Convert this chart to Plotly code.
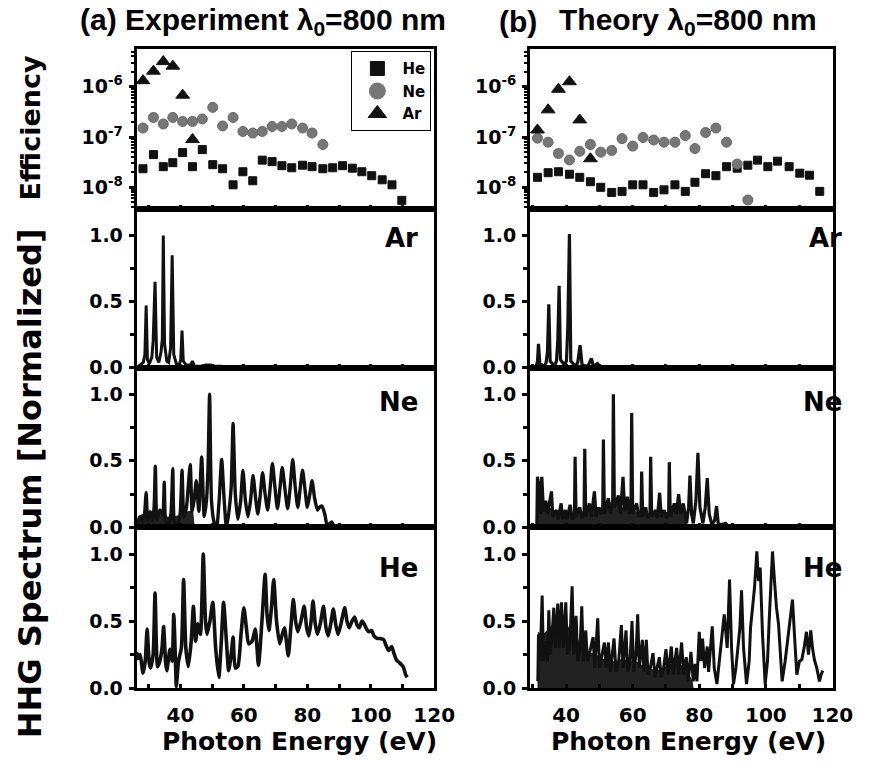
import plotly.graph_objects as go

FONT = "Liberation Sans, Arial, sans-serif"
WIDE = "DejaVu Sans, Verdana, sans-serif"
W, H = 877, 770

# ---------------- Efficiency (top row) ----------------
exp_ar_e = [28.2, 31.5, 34.6, 37.6, 40.7, 43.8]
exp_ar_eff = [1.32e-6, 2.04e-6, 3.16e-6, 2.57e-6, 6.8e-7, 8.9e-8]
exp_ne_e = [28.2, 31.5, 34.6, 37.6, 40.7, 43.8, 46.9, 50.2, 53.3, 56.6, 59.7, 62.8,
            65.8, 68.9, 72.0, 75.1, 78.5, 81.5, 84.9]
exp_ne_eff = [1.51e-7, 2.45e-7, 1.82e-7, 2.45e-7, 2.04e-7, 2.04e-7, 2.29e-7, 3.89e-7,
              1.66e-7, 2.45e-7, 1.29e-7, 1.20e-7, 1.29e-7, 1.62e-7, 1.62e-7, 1.82e-7,
              1.51e-7, 1.20e-7, 7.1e-8]
exp_he_e = [28.2, 31.5, 34.6, 37.6, 40.7, 43.8, 46.9, 50.2, 53.3, 56.6, 59.7, 62.8,
            65.8, 68.9, 72.0, 75.1, 78.5, 81.5, 84.9, 88.0, 91.1, 94.2, 97.2, 100.3,
            103.6, 106.7, 109.8]
exp_he_eff = [2.34e-8, 4.47e-8, 2.57e-8, 3.09e-8, 4.90e-8, 2.57e-8, 5.62e-8, 2.82e-8,
              2.34e-8, 1.12e-8, 2.04e-8, 1.35e-8, 3.47e-8, 3.24e-8, 2.69e-8, 2.45e-8,
              2.75e-8, 2.57e-8, 2.34e-8, 2.45e-8, 2.69e-8, 2.40e-8, 2.04e-8, 1.70e-8,
              1.41e-8, 1.12e-8, 5.5e-9]

th_ar_e = [31.4, 34.6, 37.7, 41.0, 44.1, 47.3]
th_ar_eff = [1.38e-7, 3.47e-7, 8.9e-7, 1.26e-6, 2.19e-7, 3.7e-8]
th_ne_e = [31.4, 34.6, 37.7, 41.0, 44.1, 47.3, 50.4, 53.7, 56.8, 60.0, 63.1, 66.3,
           69.4, 72.7, 75.8, 78.7, 81.9, 85.0, 88.2, 91.4, 94.6]
th_ne_eff = [9.5e-8, 7.9e-8, 4.7e-8, 3.5e-8, 5.2e-8, 7.1e-8, 5.0e-8, 5.4e-8, 9.3e-8,
             6.6e-8, 9.8e-8, 8.7e-8, 7.9e-8, 7.9e-8, 1.07e-7, 5.9e-8, 1.23e-7, 1.51e-7,
             7.9e-8, 2.9e-8, 5.6e-9]
th_he_e = [31.4, 34.6, 37.7, 41.0, 44.1, 47.3, 50.4, 53.7, 56.8, 60.0, 63.1, 66.3,
           69.4, 72.7, 75.8, 78.7, 81.9, 85.0, 88.2, 91.4, 94.6, 97.5, 100.6, 103.5,
           107.0, 110.2, 113.1, 116.2]
th_he_eff = [1.58e-8, 1.95e-8, 2.04e-8, 1.82e-8, 1.58e-8, 1.29e-8, 1.0e-8, 7.9e-9,
             8.3e-9, 1.12e-8, 1.12e-8, 7.9e-9, 8.9e-9, 1.12e-8, 8.3e-9, 1.26e-8,
             1.86e-8, 1.70e-8, 2.57e-8, 2.40e-8, 2.75e-8, 3.47e-8, 2.57e-8, 3.31e-8,
             2.57e-8, 1.91e-8, 1.74e-8, 8.3e-9]

# ---------------- Spectra (energy, normalized intensity) ----------------
exp_ar_spec = [(26.3, 0.0), (27.5, 0.02), (28.3, 0.04), (28.8, 0.1), (29.2, 0.47), (29.6, 0.06),
               (30.2, 0.03), (31.0, 0.08), (31.4, 0.2), (32.0, 0.65), (32.5, 0.08), (33.2, 0.04),
               (33.9, 0.12), (34.3, 0.22), (34.6, 1.0), (35.0, 0.18), (35.7, 0.05), (36.3, 0.04),
               (36.9, 0.15), (37.4, 0.85), (37.9, 0.1), (38.7, 0.03), (39.6, 0.02), (40.1, 0.06),
               (40.5, 0.28), (40.9, 0.05), (41.8, 0.02), (43.2, 0.02), (43.8, 0.05), (44.4, 0.01),
               (46.0, 0.01), (48.0, 0.02), (49.5, 0.02), (51.0, 0.01), (53.0, 0.01), (56.0, 0.0),
               (60.0, 0.0)]

exp_ne_spec = [(26.4, 0.02), (27.3, 0.08), (28.2, 0.04), (28.7, 0.1), (29.2, 0.26), (29.7, 0.05),
               (30.5, 0.12), (31.2, 0.05), (31.7, 0.15), (32.1, 0.46), (32.6, 0.06), (33.5, 0.13),
               (34.4, 0.1), (34.9, 0.34), (35.4, 0.04), (36.2, 0.02), (37.0, 0.1), (37.6, 0.44),
               (38.2, 0.03), (39.0, 0.02), (39.9, 0.1), (40.5, 0.43), (41.1, 0.08), (41.9, 0.15),
               (42.6, 0.35), (43.1, 0.47), (43.7, 0.12), (44.3, 0.2), (45.0, 0.35), (45.8, 0.12),
               (46.7, 0.53), (47.5, 0.08), (48.2, 0.2), (48.7, 0.45), (49.2, 1.0), (49.8, 0.2),
               (50.6, 0.04), (51.4, 0.0), (52.2, 0.2), (53.0, 0.51), (53.8, 0.2), (54.5, 0.0),
               (55.2, 0.1), (56.0, 0.3), (56.6, 0.78), (57.3, 0.25), (58.1, 0.06), (59.0, 0.2),
               (59.7, 0.43), (60.5, 0.2), (61.3, 0.08), (62.1, 0.2), (62.9, 0.39), (63.7, 0.22),
               (64.4, 0.1), (65.2, 0.25), (65.9, 0.41), (66.7, 0.25), (67.5, 0.13), (68.3, 0.3),
               (69.0, 0.48), (69.8, 0.3), (70.6, 0.14), (71.4, 0.3), (72.1, 0.45), (72.9, 0.3),
               (73.8, 0.14), (74.6, 0.3), (75.4, 0.51), (76.2, 0.3), (77.0, 0.15), (77.7, 0.28),
               (78.5, 0.43), (79.3, 0.28), (80.0, 0.15), (80.8, 0.25), (81.5, 0.35), (82.3, 0.22),
               (83.2, 0.13), (83.8, 0.15), (84.6, 0.16), (85.5, 0.1), (86.3, 0.01), (87.1, 0.03),
               (87.7, 0.04), (88.5, 0.01), (90.0, 0.0), (95.0, 0.0), (100.0, 0.0), (110.0, 0.0),
               (119.5, 0.0)]
exp_ne_floor = [(26.4, 0.0), (26.5, 0.08), (28.0, 0.1), (30.0, 0.12), (32.0, 0.12), (34.0, 0.1),
                (36.0, 0.08), (38.0, 0.08), (40.0, 0.1), (42.0, 0.12), (44.0, 0.13), (44.5, 0.0)]

exp_he_spec = [(26.2, 0.27), (26.6, 0.22), (27.3, 0.25), (28.2, 0.11), (28.9, 0.2), (29.5, 0.44),
               (30.2, 0.18), (30.6, 0.15), (31.4, 0.25), (32.0, 0.71), (32.8, 0.16), (33.5, 0.2),
               (34.2, 0.3), (34.7, 0.46), (35.3, 0.2), (35.7, 0.13), (36.7, 0.29), (37.4, 0.2),
               (37.9, 0.55), (38.5, 0.15), (38.7, 0.01), (39.4, 0.2), (40.3, 0.3), (41.0, 0.81),
               (41.7, 0.3), (42.5, 0.16), (43.4, 0.35), (44.1, 0.61), (44.8, 0.35), (45.5, 0.48),
               (46.3, 0.4), (47.2, 1.0), (47.9, 0.5), (48.4, 0.4), (49.3, 0.5), (50.2, 0.64),
               (51.1, 0.3), (52.1, 0.08), (52.9, 0.35), (53.6, 0.64), (54.5, 0.35), (55.2, 0.13),
               (56.0, 0.25), (56.6, 0.38), (57.3, 0.15), (58.1, 0.16), (59.1, 0.4), (60.0, 0.6),
               (60.8, 0.45), (61.5, 0.33), (62.6, 0.35), (63.6, 0.44), (64.6, 0.17), (65.7, 0.5),
               (66.7, 0.85), (67.3, 0.55), (67.9, 0.43), (68.7, 0.6), (69.4, 0.81), (70.3, 0.5),
               (71.3, 0.33), (72.1, 0.4), (72.8, 0.45), (74.0, 0.24), (74.8, 0.45), (75.6, 0.66),
               (76.3, 0.5), (77.0, 0.42), (78.0, 0.5), (79.0, 0.61), (79.8, 0.45), (80.5, 0.39),
               (81.2, 0.5), (81.8, 0.65), (82.5, 0.48), (83.2, 0.4), (84.1, 0.48), (85.1, 0.61),
               (85.9, 0.45), (86.6, 0.39), (87.4, 0.48), (88.2, 0.59), (89.0, 0.47), (89.7, 0.4),
               (90.8, 0.5), (91.8, 0.6), (92.5, 0.5), (93.2, 0.45), (94.1, 0.5), (94.9, 0.53),
               (95.7, 0.47), (96.4, 0.45), (97.2, 0.5), (97.9, 0.48), (98.7, 0.44), (99.5, 0.42),
               (100.3, 0.43), (101.0, 0.39), (102.1, 0.37), (103.1, 0.37), (104.1, 0.36),
               (104.8, 0.32), (105.6, 0.28), (106.6, 0.31), (107.3, 0.26), (108.1, 0.21),
               (109.0, 0.19), (110.2, 0.16), (111.0, 0.1), (111.5, 0.08)]

th_ar_spec = [(29.5, 0.0), (31.0, 0.01), (31.4, 0.05), (31.7, 0.18), (32.1, 0.03), (33.5, 0.01),
              (34.0, 0.04), (34.4, 0.12), (34.8, 0.48), (35.2, 0.05), (36.5, 0.01), (37.1, 0.05),
              (37.5, 0.2), (37.9, 0.62), (38.3, 0.06), (39.5, 0.02), (40.1, 0.05), (40.5, 0.3),
              (41.0, 1.01), (41.4, 0.05), (42.8, 0.01), (43.5, 0.04), (44.2, 0.17), (44.8, 0.02),
              (46.5, 0.01), (47.6, 0.07), (48.2, 0.01), (49.4, 0.03), (50.5, 0.0), (60.0, 0.0)]

th_ne_spec = [(31.2, 0.02), (31.4, 0.38), (31.9, 0.3), (32.3, 0.1), (32.7, 0.38), (33.2, 0.12),
              (33.9, 0.2), (34.4, 0.1), (35.6, 0.27), (36.0, 0.08), (37.1, 0.13), (37.6, 0.06),
              (38.5, 0.18), (39.0, 0.06), (39.8, 0.13), (40.3, 0.06), (41.2, 0.17), (41.8, 0.06),
              (42.5, 0.08), (42.7, 0.53), (43.0, 0.08), (44.1, 0.15), (44.7, 0.07), (45.4, 0.1),
              (45.6, 0.59), (45.9, 0.08), (47.0, 0.18), (47.6, 0.08), (48.5, 0.27), (49.0, 0.08),
              (49.8, 0.15), (50.4, 0.1), (51.0, 0.12), (51.2, 0.66), (51.5, 0.1), (52.7, 0.22),
              (53.3, 0.1), (54.0, 0.2), (54.2, 1.0), (54.5, 0.15), (55.7, 0.24), (56.3, 0.1),
              (57.1, 0.38), (57.6, 0.12), (58.4, 0.23), (59.0, 0.1), (59.5, 0.2), (59.7, 0.86),
              (60.0, 0.1), (61.2, 0.18), (61.8, 0.08), (62.5, 0.1), (62.7, 0.42), (63.0, 0.08),
              (63.9, 0.15), (64.5, 0.07), (65.2, 0.1), (65.4, 0.53), (65.7, 0.08), (66.9, 0.13),
              (67.4, 0.07), (68.1, 0.26), (68.6, 0.08), (69.5, 0.13), (70.1, 0.07), (70.8, 0.1),
              (71.0, 0.49), (71.3, 0.08), (72.5, 0.18), (73.1, 0.1), (73.8, 0.25), (74.4, 0.1),
              (75.2, 0.18), (75.8, 0.08), (76.2, 0.03), (76.8, 0.15), (77.2, 0.39), (77.7, 0.1),
              (78.2, 0.03), (79.0, 0.2), (79.6, 0.56), (80.2, 0.15), (81.1, 0.03), (81.8, 0.15),
              (82.4, 0.37), (83.0, 0.1), (83.8, 0.02), (84.6, 0.05), (85.2, 0.16), (85.7, 0.03),
              (86.5, 0.02), (87.9, 0.03), (89.0, 0.0), (95.0, 0.0), (105.0, 0.0), (119.0, 0.0)]
th_ne_floor = [(31.0, 0.0), (31.2, 0.35), (32.5, 0.3), (33.5, 0.18), (35.0, 0.15), (37.0, 0.12),
               (39.0, 0.1), (41.0, 0.1), (43.0, 0.12), (45.0, 0.12), (47.0, 0.14), (49.0, 0.15),
               (51.0, 0.15), (53.0, 0.18), (55.0, 0.2), (57.0, 0.15), (59.0, 0.15), (61.0, 0.12),
               (63.0, 0.1), (65.0, 0.1), (67.0, 0.1), (69.0, 0.11), (71.0, 0.12), (73.0, 0.15),
               (75.0, 0.15), (76.0, 0.12), (76.3, 0.0)]

th_he_spec = [(31.5, 0.05), (31.7, 0.4), (32.2, 0.2), (32.8, 0.69), (33.2, 0.2), (33.8, 0.35),
              (34.4, 0.2), (34.8, 0.58), (35.2, 0.25), (35.8, 0.4), (36.3, 0.6), (36.8, 0.3),
              (37.5, 0.63), (38.0, 0.3), (38.6, 0.64), (39.2, 0.3), (39.9, 0.64), (40.4, 0.25),
              (41.1, 0.3), (41.8, 0.76), (42.3, 0.25), (43.0, 0.54), (43.5, 0.2), (44.2, 0.3),
              (44.7, 0.61), (45.2, 0.2), (45.9, 0.43), (46.4, 0.2), (47.2, 0.28), (48.1, 0.38),
              (48.6, 0.15), (49.5, 0.52), (50.0, 0.15), (50.7, 0.25), (51.5, 0.34), (52.0, 0.15),
              (52.7, 0.34), (53.3, 0.12), (54.4, 0.37), (55.0, 0.12), (55.8, 0.2), (56.6, 0.47),
              (57.1, 0.15), (58.0, 0.43), (58.5, 0.12), (59.2, 0.2), (59.8, 0.5), (60.3, 0.12),
              (61.0, 0.25), (61.5, 0.55), (62.0, 0.15), (62.9, 0.36), (63.4, 0.12), (64.1, 0.36),
              (64.6, 0.1), (65.3, 0.15), (66.1, 0.26), (66.7, 0.08), (68.0, 0.23), (68.6, 0.08),
              (69.3, 0.15), (70.0, 0.29), (70.6, 0.1), (71.6, 0.31), (72.2, 0.1), (73.2, 0.3),
              (73.8, 0.1), (74.7, 0.34), (75.3, 0.1), (76.1, 0.23), (76.7, 0.05), (77.5, 0.27),
              (78.2, 0.05), (78.8, 0.18), (79.3, 0.05), (80.0, 0.42), (80.5, 0.2), (81.0, 0.37),
              (81.6, 0.15), (82.4, 0.31), (82.8, 0.12), (83.9, 0.46), (84.5, 0.15), (85.3, 0.03),
              (86.0, 0.2), (86.8, 0.38), (87.5, 0.55), (88.4, 0.3), (89.1, 0.81), (89.7, 0.3),
              (90.3, 0.03), (91.0, 0.15), (91.7, 0.31), (92.2, 0.45), (92.7, 0.73), (93.3, 0.3),
              (94.2, 0.03), (95.0, 0.2), (95.4, 0.45), (96.0, 0.6), (96.6, 0.75), (97.3, 1.02),
              (97.8, 0.8), (98.3, 0.9), (99.0, 0.4), (99.8, 0.03), (100.5, 0.2), (101.0, 0.5),
              (101.5, 0.75), (102.0, 1.02), (102.6, 0.8), (103.2, 0.6), (103.8, 0.48),
              (104.9, 0.05), (105.8, 0.2), (106.6, 0.36), (107.4, 0.5), (108.0, 0.66),
              (108.6, 0.4), (109.3, 0.1), (110.1, 0.2), (110.8, 0.21), (111.5, 0.3),
              (112.2, 0.42), (112.8, 0.25), (113.5, 0.43), (114.0, 0.3), (114.6, 0.21),
              (115.3, 0.15), (116.1, 0.05), (116.6, 0.1), (117.1, 0.13)]
th_he_floor = [(31.4, 0.0), (31.5, 0.42), (33.0, 0.4), (35.0, 0.45), (37.0, 0.5), (39.0, 0.5),
               (41.0, 0.45), (43.0, 0.38), (45.0, 0.32), (47.0, 0.27), (49.0, 0.25), (51.0, 0.22),
               (53.0, 0.2), (55.0, 0.2), (57.0, 0.22), (59.0, 0.2), (61.0, 0.2), (63.0, 0.17),
               (65.0, 0.15), (67.0, 0.13), (69.0, 0.15), (71.0, 0.18), (73.0, 0.18), (75.0, 0.17),
               (77.0, 0.1), (78.0, 0.05), (78.3, 0.0)]

panel_names = ["Ar", "Ne", "He"]
x_ticks = [40, 60, 80, 100, 120]
titles = ["(a) Experiment λ<sub>0</sub>=800 nm", "(b)", "Theory λ<sub>0</sub>=800 nm"]

# ---------------- geometry ----------------
col_px = [(140, 445), (543, 853)]
row_px = [(50, 212), (212, 373), (373, 535), (535, 698)]
x_ranges = [(26.2, 120.05), (29.15, 120.05)]
LOG_RANGE = (-8.431, -5.255)


def px2fx(p):
    return p / W


def px2fy(p):
    return 1 - p / H


def aid(i):
    return "" if i == 1 else str(i)


fig = go.Figure()
BOLD = dict(family=FONT, color="black", weight="bold")
WBOLD = dict(family=WIDE, color="black", weight="bold")

layout = {}
for r in range(4):
    for c in range(2):
        i = r * 2 + c + 1
        xa = dict(domain=[px2fx(col_px[c][0]), px2fx(col_px[c][1])], range=list(x_ranges[c]),
                  anchor="y" + aid(i), showgrid=False, zeroline=False,
                  showline=True, linewidth=3, linecolor="black", mirror=True,
                  ticks="inside", ticklen=4, tickwidth=3, tickcolor="black",
                  tickmode="array", tickvals=x_ticks, ticktext=[str(v) for v in x_ticks],
                  minor=dict(ticks="inside", tickvals=[30, 50, 70, 90, 110], ticklen=4,
                             tickwidth=3, tickcolor="black"),
                  showticklabels=(r == 3), tickfont=dict(WBOLD, size=20), ticklabelstandoff=7)
        if r == 0:
            ya = dict(type="log", range=list(LOG_RANGE),
                      tickmode="array", tickvals=[1e-8, 1e-7, 1e-6],
                      ticktext=["10<sup>-8</sup>", "10<sup>-7</sup>", "10<sup>-6</sup>"],
                      minor=dict(ticks="outside", ticklen=3, tickwidth=2, tickcolor="black",
                                 tickvals=[k * 10.0 ** e for e in (-9, -8, -7, -6) for k in range(2, 10)]))
        else:
            ya = dict(range=[0, 1.2], tickmode="array", tickvals=[0, 0.5, 1.0],
                      ticktext=["0.0", "0.5", "1.0"],
                      minor=dict(ticks="outside", tickvals=[0.25, 0.75], ticklen=4,
                                 tickwidth=3, tickcolor="black"))
        ya.update(domain=[px2fy(row_px[r][1]), px2fy(row_px[r][0])], anchor="x" + aid(i),
                  showgrid=False, zeroline=False, showline=True, linewidth=3,
                  linecolor="black", mirror=True, ticks="outside", ticklen=5, tickwidth=3,
                  tickcolor="black", tickfont=dict(WBOLD, size=19), ticklabelstandoff=2)
        layout["xaxis" + aid(i)] = xa
        layout["yaxis" + aid(i)] = ya


def add_eff(i, e, v, symbol, size, color, line_color):
    fig.add_trace(go.Scatter(x=e, y=v, mode="markers", xaxis="x" + aid(i), yaxis="y" + aid(i),
                             marker=dict(symbol=symbol, size=size, color=color,
                                         line=dict(color=line_color, width=1)),
                             showlegend=False, cliponaxis=False))


add_eff(1, exp_he_e, exp_he_eff, "square", 8, "#111111", "#111111")
add_eff(1, exp_ne_e, exp_ne_eff, "circle", 10, "#777777", "#666666")
add_eff(1, exp_ar_e, exp_ar_eff, "triangle-up", 12, "#111111", "#111111")
add_eff(2, th_he_e, th_he_eff, "square", 8, "#111111", "#111111")
add_eff(2, th_ne_e, th_ne_eff, "circle", 10, "#777777", "#666666")
add_eff(2, th_ar_e, th_ar_eff, "triangle-up", 12, "#111111", "#111111")

# legend-only entries
for name, sym, size, col in [("He", "square", 14, "#111111"), ("Ne", "circle", 17, "#777777"),
                             ("Ar", "triangle-up", 19, "#111111")]:
    fig.add_trace(go.Scatter(x=[None], y=[None], mode="markers", name=name, xaxis="x", yaxis="y",
                             marker=dict(symbol=sym, size=size, color=col,
                                         line=dict(color=col, width=1))))


def add_fill(i, pts):
    fig.add_trace(go.Scatter(x=[p[0] for p in pts], y=[p[1] for p in pts], mode="lines",
                             xaxis="x" + aid(i), yaxis="y" + aid(i), fill="toself",
                             fillcolor="#222222", line=dict(width=0), showlegend=False,
                             hoverinfo="skip"))


def add_spec(i, pts, width=3.2, smooth=False):
    fig.add_trace(go.Scatter(x=[p[0] for p in pts], y=[p[1] for p in pts], mode="lines",
                             xaxis="x" + aid(i), yaxis="y" + aid(i),
                             line=dict(color="#111111", width=width,
                                       shape="spline" if smooth else "linear",
                                       smoothing=0.6 if smooth else None),
                             showlegend=False))


add_spec(3, exp_ar_spec, width=3.0)
add_spec(4, th_ar_spec, width=3.2)
add_fill(5, exp_ne_floor)
add_spec(5, exp_ne_spec, width=3.4, smooth=True)
add_fill(6, th_ne_floor)
add_spec(6, th_ne_spec, width=3.2)
add_spec(7, exp_he_spec, width=3.6, smooth=True)
add_fill(8, th_he_floor)
add_spec(8, th_he_spec, width=3.0)

ann = []
# column titles
ann.append(dict(text=titles[0], x=px2fx(80), y=px2fy(22)))
ann.append(dict(text=titles[1], x=px2fx(509), y=px2fy(22)))
ann.append(dict(text=titles[2], x=px2fx(571), y=px2fy(22)))
for a in ann:
    a.update(xref="paper", yref="paper", showarrow=False, xanchor="left", yanchor="middle",
             font=dict(BOLD, size=30))


def center_ann(text, x, y, size, angle=0, family=WBOLD):
    return dict(text=text, x=px2fx(x), y=px2fy(y), textangle=angle, xref="paper",
                yref="paper", showarrow=False, xanchor="center", yanchor="middle",
                font=dict(family, size=size))


# y-axis labels
ann.append(center_ann("Efficiency", 31, 130, 27, -90))
ann.append(center_ann("HHG Spectrum [Normalized]", 31, 490, 32, -90))
# x-axis titles
ann.append(center_ann("Photon Energy (eV)", 307, 752, 25))
ann.append(center_ann("Photon Energy (eV)", 705, 752, 25))
# panel labels
label_y = [241, 408, 576]
for r in range(3):
    for c, xr in [(0, 430), (1, 865)]:
        ann.append(dict(text=panel_names[r], x=px2fx(xr), y=px2fy(label_y[r]), xanchor="right",
                        yanchor="middle", xref="paper", yref="paper", showarrow=False,
                        font=dict(WBOLD, size=26)))

fig.update_layout(
    width=W, height=H, autosize=False, margin=dict(l=0, r=0, t=0, b=0),
    paper_bgcolor="white", plot_bgcolor="white",
    annotations=ann,
    legend=dict(x=px2fx(360), y=px2fy(52), xanchor="left", yanchor="top",
                bordercolor="black", borderwidth=1, bgcolor="white",
                font=dict(WBOLD, size=15), itemsizing="trace", tracegroupgap=0,
                itemwidth=40),
    **layout,
)

fig.write_html("out.html")
